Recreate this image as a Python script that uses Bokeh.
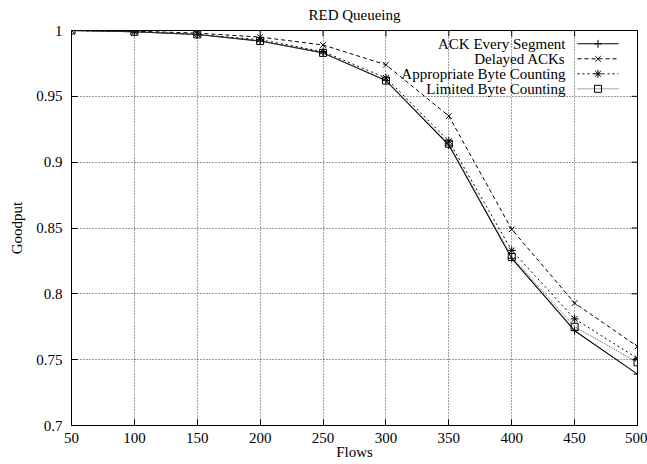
from bokeh.plotting import figure
from bokeh.models import NumeralTickFormatter, FixedTicker, Range1d
from bokeh.core.properties import value
from bokeh.embed import file_html
from bokeh.resources import INLINE

flows = [50, 100, 150, 200, 250, 300, 350, 400, 450, 500]
ack_every_segment = [1.0, 0.999, 0.997, 0.992, 0.983, 0.962, 0.913, 0.827, 0.772, 0.739]
delayed_acks = [1.0, 0.9995, 0.998, 0.995, 0.989, 0.974, 0.935, 0.849, 0.793, 0.760]
appropriate_bc = [1.0, 0.999, 0.997, 0.993, 0.984, 0.964, 0.916, 0.833, 0.781, 0.751]
limited_bc = [1.0, 0.999, 0.997, 0.992, 0.983, 0.962, 0.914, 0.828, 0.775, 0.748]
series_names = ["ACK Every Segment", "Delayed ACKs", "Appropriate Byte Counting", "Limited Byte Counting"]
x_ticks = [50, 100, 150, 200, 250, 300, 350, 400, 450, 500]
y_ticks = [0.7, 0.75, 0.8, 0.85, 0.9, 0.95, 1.0]

FONT = "Liberation Serif"
FS = "15px"
X0, X1, Y0, Y1 = 50, 500, 0.7, 1.0
FW, FH = 566, 395  # frame size in px
TICK = 6

p = figure(width=647, height=464, x_range=Range1d(X0, X1), y_range=Range1d(Y0, Y1),
           output_backend="svg", toolbar_location=None, title="RED Queueing",
           min_border_left=71, min_border_right=10, min_border_top=30, min_border_bottom=39)
p.title.align = "center"
p.title.vertical_align = "top"
p.title.text_font = FONT
p.title.text_font_style = "normal"
p.title.text_font_size = FS
p.title.text_color = "black"
p.title.standoff = 12
p.outline_line_color = "black"
p.outline_line_width = 1
p.background_fill_color = "white"
p.border_fill_color = "white"

for ax in p.xaxis + p.yaxis:
    ax.major_tick_in = TICK
    ax.major_tick_out = 0
    ax.minor_tick_in = 0
    ax.minor_tick_out = 0
    ax.axis_line_color = "black"
    ax.major_label_text_font = FONT
    ax.major_label_text_font_size = FS
    ax.major_label_text_color = "black"
    ax.axis_label_text_font = FONT
    ax.axis_label_text_font_size = FS
    ax.axis_label_text_font_style = "normal"
    ax.axis_label_text_color = "black"

p.xaxis.ticker = FixedTicker(ticks=x_ticks)
p.yaxis.ticker = FixedTicker(ticks=y_ticks)
p.yaxis.formatter = NumeralTickFormatter(format="0.[00]")
p.xaxis.axis_label = "Flows"
p.yaxis.axis_label = "Goodput"
p.xaxis.major_label_standoff = 7
p.xaxis.axis_label_standoff = -2
p.yaxis.major_label_standoff = 9
p.yaxis.axis_label_standoff = 8

p.xgrid.ticker = FixedTicker(ticks=x_ticks)
p.ygrid.ticker = FixedTicker(ticks=y_ticks)
for g in [p.xgrid, p.ygrid]:
    g.grid_line_color = "black"
    g.grid_line_alpha = 0.75
    g.grid_line_dash = "1 2"
    g.grid_line_width = 1

# mirrored inward ticks on the top and right edges (gnuplot style)
dy = TICK * (Y1 - Y0) / FH
dx = TICK * (X1 - X0) / FW
p.segment(x0=x_ticks, y0=[Y1] * len(x_ticks), x1=x_ticks, y1=[Y1 - dy] * len(x_ticks),
          line_color="black", line_width=1)
p.segment(x0=[X1] * len(y_ticks), y0=y_ticks, x1=[X1 - dx] * len(y_ticks), y1=y_ticks,
          line_color="black", line_width=1)

styles = [
    dict(dash="solid", color="black", marker="cross", size=8, width=1.1),
    dict(dash="4 3", color="black", marker="x", size=8, width=1),
    dict(dash="2 3", color="black", marker="asterisk", size=8, width=1),
    dict(dash="1 1", color="#555555", marker="square", size=7, width=1),
]
data = [ack_every_segment, delayed_acks, appropriate_bc, limited_bc]

def sx(px):
    return X0 + px * (X1 - X0) / FW

def sy(py):
    return Y1 - py * (Y1 - Y0) / FH

for i, (vals, st, name) in enumerate(zip(data, styles, series_names)):
    p.line(flows, vals, line_color=st["color"], line_dash=st["dash"], line_width=st["width"])
    p.scatter(flows, vals, marker=st["marker"], size=st["size"], line_color="black",
              fill_color=None, line_width=1)
    # legend entry (gnuplot-style: text right-aligned, sample on the right)
    ly = sy(13.3 + 15 * i)
    p.text(x=[sx(494)], y=[ly], text=[name], text_align="right", text_baseline="middle",
           text_font=value(FONT), text_font_size=FS, text_color="black")
    p.line([sx(506), sx(547)], [ly, ly], line_color=st["color"], line_dash=st["dash"],
           line_width=st["width"])
    p.scatter([sx(526.5)], [ly], marker=st["marker"], size=st["size"], line_color="black",
              fill_color=None, line_width=1)

open("out.html", "w").write(file_html(p, INLINE))
